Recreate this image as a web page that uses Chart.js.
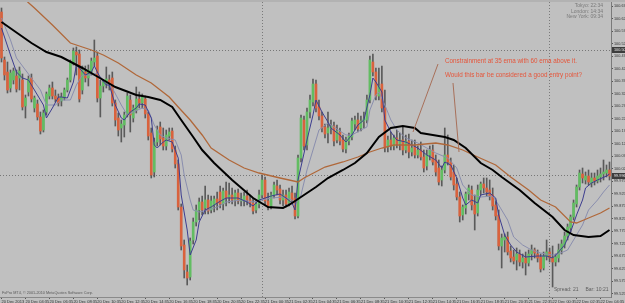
<!DOCTYPE html>
<html>
<head>
<meta charset="utf-8">
<script src="https://cdn.jsdelivr.net/npm/chart.js@4.4.1/dist/chart.umd.min.js"></script>
<style>
  html, body { margin: 0; padding: 0; background: #c0c0c0; overflow: hidden; }
</style>
</head>
<body>
<canvas id="chart" width="625" height="303"></canvas>
<script>
// M15 candles
let open = [100.652,100.460,100.412,100.348,100.380,100.396,100.388,100.380,100.276,100.332,100.388,100.268,100.284,100.232,100.180,100.252,100.316,100.348,100.316,
100.308,100.296,100.308,100.340,100.380,100.448,100.492,100.484,100.340,100.412,100.388,100.412,100.452,100.476,100.308,100.356,100.368,100.380,100.388,100.288,
100.228,100.188,100.200,100.244,100.300,100.228,100.260,100.304,100.288,100.304,100.244,100.168,100.012,100.132,100.192,100.148,100.116,100.156,100.176,100.100,
100.044,99.872,99.720,99.612,99.592,99.740,99.812,99.860,99.892,99.868,99.900,99.860,99.880,99.904,99.932,99.884,99.936,99.912,99.920,99.900,
99.928,99.896,99.896,99.916,99.900,99.888,99.860,99.884,99.920,99.980,99.896,99.876,99.920,99.956,99.944,99.900,99.920,99.888,99.928,99.908,99.836,
100.068,100.220,100.120,100.252,100.292,100.364,100.272,100.236,100.192,100.168,100.188,100.196,100.140,100.172,100.140,100.104,100.136,100.152,100.204,100.220,
100.188,100.216,100.220,100.300,100.452,100.412,100.316,100.364,100.268,100.112,100.140,100.116,100.148,100.124,100.140,100.100,100.136,100.092,100.112,100.080,
100.100,100.072,100.036,100.080,100.100,100.060,100.028,99.980,100.020,100.080,100.052,100.012,99.964,99.912,99.840,99.868,99.924,99.940,99.880,99.848,
99.940,99.964,99.948,99.940,99.920,99.880,99.840,99.716,99.740,99.752,99.696,99.672,99.660,99.684,99.652,99.668,99.648,99.684,99.700,99.684,
99.672,99.628,99.676,99.692,99.668,99.652,99.668,99.700,99.720,99.756,99.788,99.832,99.884,99.952,100.004,99.980,99.996,99.968,99.988,99.976,
99.992,100.004,100.008,100.020];
let high = [100.668,100.472,100.452,100.420,100.428,100.420,100.432,100.404,100.320,100.396,100.404,100.316,100.300,100.252,100.260,100.332,100.360,100.372,100.340,
100.324,100.328,100.348,100.388,100.460,100.508,100.512,100.500,100.436,100.436,100.440,100.468,100.540,100.492,100.380,100.380,100.432,100.400,100.412,100.300,
100.248,100.220,100.252,100.328,100.320,100.280,100.352,100.332,100.324,100.316,100.252,100.188,100.148,100.196,100.212,100.188,100.180,100.188,100.188,100.116,
100.060,99.884,99.740,99.640,99.748,99.828,99.880,99.908,99.916,99.956,99.920,99.916,99.916,99.932,99.956,99.948,99.972,99.968,99.948,99.940,
99.944,99.928,99.932,99.940,99.920,99.908,99.900,99.940,100.000,99.992,99.928,99.932,99.972,99.980,99.960,99.940,99.940,99.948,99.956,99.928,100.080,
100.240,100.236,100.268,100.320,100.384,100.380,100.300,100.252,100.204,100.252,100.220,100.212,100.200,100.188,100.160,100.152,100.168,100.228,100.236,100.248,
100.236,100.252,100.320,100.476,100.484,100.428,100.428,100.436,100.340,100.156,100.172,100.160,100.180,100.168,100.192,100.160,100.164,100.140,100.140,100.116,
100.132,100.100,100.100,100.116,100.120,100.080,100.060,100.036,100.188,100.160,100.068,100.040,99.988,99.932,99.880,99.932,99.960,99.956,99.920,99.960,
99.972,99.988,99.988,99.980,99.948,99.900,99.860,99.764,99.764,99.772,99.716,99.700,99.708,99.700,99.684,99.692,99.700,99.720,99.708,99.700,
99.684,99.692,99.740,99.708,99.716,99.684,99.724,99.740,99.772,99.804,99.840,99.900,99.960,100.020,100.028,100.012,100.020,100.008,100.008,100.020,
100.028,100.060,100.040,100.052];
let low = [100.452,100.380,100.328,100.332,100.364,100.332,100.340,100.260,100.228,100.316,100.292,100.252,100.220,100.164,100.172,100.240,100.304,100.304,100.292,
100.276,100.276,100.300,100.332,100.372,100.440,100.400,100.292,100.324,100.372,100.356,100.400,100.436,100.292,100.232,100.332,100.348,100.340,100.276,100.196,
100.156,100.132,100.152,100.232,100.172,100.212,100.248,100.268,100.268,100.228,100.140,99.988,99.992,100.116,100.120,100.100,100.100,100.140,100.092,100.028,
99.860,99.700,99.588,99.560,99.580,99.724,99.796,99.820,99.840,99.844,99.844,99.848,99.852,99.860,99.868,99.860,99.876,99.888,99.884,99.876,
99.884,99.876,99.876,99.880,99.872,99.844,99.848,99.868,99.908,99.880,99.860,99.864,99.908,99.920,99.884,99.876,99.872,99.876,99.884,99.824,99.828,
100.052,100.100,100.100,100.228,100.276,100.252,100.220,100.172,100.148,100.128,100.164,100.116,100.128,100.120,100.092,100.088,100.120,100.140,100.180,100.172,
100.176,100.188,100.208,100.288,100.396,100.300,100.300,100.252,100.092,100.092,100.100,100.100,100.108,100.100,100.080,100.088,100.068,100.076,100.068,100.068,
100.060,100.012,100.020,100.060,100.040,99.996,99.960,99.956,100.008,100.040,99.980,99.940,99.900,99.812,99.820,99.844,99.900,99.860,99.780,99.836,
99.920,99.928,99.916,99.900,99.860,99.820,99.700,99.628,99.692,99.680,99.652,99.644,99.620,99.636,99.628,99.600,99.636,99.660,99.668,99.652,
99.612,99.620,99.660,99.652,99.552,99.636,99.652,99.684,99.708,99.740,99.772,99.820,99.872,99.940,99.968,99.964,99.960,99.952,99.960,99.968,
99.972,99.980,99.992,99.980];
let close = [100.468,100.400,100.340,100.408,100.416,100.344,100.416,100.272,100.308,100.384,100.304,100.308,100.232,100.176,100.248,100.324,100.348,100.316,100.304,
100.288,100.312,100.340,100.380,100.448,100.496,100.480,100.304,100.420,100.388,100.420,100.456,100.468,100.308,100.356,100.372,100.384,100.364,100.288,100.220,
100.180,100.204,100.240,100.316,100.240,100.268,100.304,100.288,100.312,100.244,100.156,100.000,100.132,100.180,100.144,100.116,100.160,100.172,100.104,100.044,
99.872,99.716,99.620,99.588,99.736,99.812,99.860,99.892,99.860,99.900,99.856,99.896,99.904,99.888,99.884,99.936,99.908,99.920,99.900,99.928,
99.896,99.904,99.916,99.900,99.888,99.856,99.884,99.920,99.980,99.896,99.876,99.920,99.960,99.940,99.900,99.920,99.884,99.932,99.900,99.836,100.068,
100.228,100.116,100.252,100.300,100.364,100.268,100.236,100.188,100.164,100.188,100.196,100.136,100.176,100.136,100.104,100.140,100.156,100.216,100.220,100.184,
100.216,100.224,100.300,100.460,100.412,100.316,100.356,100.268,100.108,100.140,100.116,100.148,100.124,100.140,100.100,100.136,100.092,100.108,100.080,100.100,
100.072,100.028,100.080,100.100,100.052,100.012,99.972,100.020,100.080,100.052,99.992,99.960,99.912,99.836,99.872,99.924,99.948,99.880,99.844,99.940,
99.964,99.948,99.932,99.916,99.876,99.836,99.716,99.748,99.752,99.692,99.668,99.656,99.684,99.652,99.668,99.648,99.684,99.700,99.688,99.668,
99.624,99.676,99.692,99.668,99.652,99.672,99.700,99.724,99.756,99.792,99.832,99.888,99.952,100.008,99.988,99.996,99.972,99.988,99.976,99.996,
100.004,100.012,100.020,99.996];

// moving averages as [bar, price]
let ema35 = [[0,100.612],[10,100.528],[15,100.492],[20,100.472],[27,100.428],[34,100.380],[38,100.352],[45,100.320],[49,100.312],[53,100.300],[57,100.272],[60,100.220],[64,100.152],[67,100.100],[71,100.048],[77,99.980],[84,99.908],[89,99.872],[94,99.868],[96,99.880],[100,99.912],[105,99.952],[109,99.988],[114,100.020],[118,100.048],[122,100.088],[126,100.152],[130,100.188],[134,100.196],[138,100.188],[140,100.168],[144,100.160],[148,100.152],[151,100.140],[155,100.108],[160,100.048],[164,100.020],[167,99.992],[173,99.940],[178,99.888],[184,99.832],[188,99.780],[191,99.760],[196,99.752],[200,99.756],[203,99.780]];
let ema60 = [[0,100.760],[8,100.700],[11,100.668],[17,100.600],[23,100.528],[27,100.512],[30,100.500],[34,100.480],[39,100.448],[45,100.400],[50,100.368],[56,100.312],[59,100.272],[63,100.220],[67,100.160],[70,100.108],[76,100.060],[81,100.028],[86,100.008],[93,99.988],[99,99.972],[101,99.988],[108,100.032],[114,100.052],[119,100.072],[123,100.092],[127,100.108],[131,100.120],[138,100.120],[145,100.128],[149,100.120],[154,100.100],[159,100.072],[165,100.040],[170,99.992],[176,99.940],[180,99.900],[185,99.872],[190,99.812],[192,99.808],[196,99.828],[200,99.848],[203,99.868]];
let emaFast = [[0,100.588],[3,100.480],[5,100.412],[7,100.388],[9,100.380],[11,100.340],[14,100.280],[15,100.228],[17,100.268],[19,100.312],[20,100.312],[22,100.308],[24,100.372],[25,100.440],[26,100.428],[28,100.400],[30,100.412],[31,100.436],[33,100.388],[35,100.360],[36,100.360],[38,100.280],[40,100.228],[41,100.220],[43,100.252],[45,100.268],[46,100.284],[48,100.280],[50,100.228],[51,100.120],[52,100.108],[54,100.132],[55,100.140],[57,100.132],[59,100.068],[60,99.920],[62,99.780],[63,99.680],[65,99.740],[66,99.812],[68,99.860],[70,99.872],[72,99.888],[75,99.908],[79,99.908],[82,99.892],[84,99.876],[86,99.900],[88,99.908],[90,99.916],[93,99.924],[95,99.908],[97,99.888],[98,99.860],[99,99.980],[102,100.140],[104,100.240],[105,100.300],[107,100.252],[109,100.212],[110,100.188],[113,100.160],[115,100.132],[117,100.160],[119,100.200],[121,100.220],[123,100.320],[124,100.388],[125,100.372],[127,100.332],[128,100.220],[130,100.172],[132,100.140],[135,100.132],[139,100.108],[142,100.080],[145,100.060],[147,100.028],[148,100.052],[150,100.040],[152,99.988],[154,99.908],[155,99.880],[157,99.900],[159,99.888],[160,99.920],[163,99.928],[165,99.908],[166,99.840],[168,99.760],[170,99.720],[172,99.692],[175,99.672],[179,99.676],[182,99.676],[184,99.668],[186,99.692],[188,99.720],[190,99.772],[192,99.840],[194,99.900],[195,99.948],[197,99.968],[199,99.980],[202,99.996],[203,100.004]];
let emaMid = [[0,100.628],[3,100.540],[5,100.468],[8,100.420],[10,100.388],[13,100.340],[15,100.280],[18,100.280],[20,100.300],[23,100.300],[25,100.360],[27,100.400],[30,100.400],[32,100.408],[34,100.380],[37,100.348],[40,100.280],[42,100.240],[44,100.252],[47,100.268],[49,100.260],[51,100.200],[53,100.160],[55,100.148],[58,100.140],[60,100.080],[61,100.000],[63,99.900],[64,99.860],[66,99.852],[69,99.860],[72,99.872],[75,99.892],[80,99.900],[84,99.892],[87,99.900],[90,99.908],[94,99.912],[97,99.900],[98,99.880],[100,99.920],[102,100.020],[104,100.100],[106,100.180],[109,100.208],[111,100.192],[115,100.160],[117,100.160],[120,100.180],[122,100.192],[123,100.260],[125,100.320],[126,100.332],[128,100.280],[130,100.220],[132,100.180],[135,100.148],[139,100.128],[142,100.108],[145,100.088],[149,100.068],[152,100.028],[154,99.960],[157,99.920],[160,99.912],[164,99.916],[166,99.880],[169,99.820],[171,99.752],[174,99.720],[177,99.700],[180,99.688],[184,99.680],[186,99.684],[189,99.700],[191,99.740],[194,99.800],[196,99.860],[199,99.900],[201,99.932],[203,99.960]];

let timeTicks = ["20 Dec 2013","20 Dec 04:35","20 Dec 06:35","20 Dec 08:35","20 Dec 10:35","20 Dec 12:35","20 Dec 14:35","20 Dec 16:35","20 Dec 18:35","20 Dec 20:35","20 Dec 22:35","21 Dec 00:35","21 Dec 02:35",
  "21 Dec 04:35","21 Dec 06:35","21 Dec 08:35","21 Dec 10:35","21 Dec 12:35","21 Dec 14:35","21 Dec 16:35","21 Dec 18:35","21 Dec 20:35","21 Dec 22:35","22 Dec 00:35","22 Dec 02:35","22 Dec 04:35"];
let barsPerTick = 8;
let priceTicks = [100.675,100.625,100.575,100.525,100.475,100.425,100.375,100.325,100.275,100.225,100.175,100.125,100.075,100.025,
  99.975,99.925,99.875,99.825,99.775,99.725,99.675,99.625,99.575,99.525];
let levels = [100.500, 100.000];     // dotted horizontal lines
let separators = [87, 183];          // day separators (bar index)
let priceBoxes = [100.500, 99.996];  // highlighted labels on the price scale

const BULL = '#62bd62', BEAR = '#d9623d', WICK = '#5a5a5a', FONT = '"Liberation Sans", Arial, sans-serif';

let labels = open.map((_, i) => String(i));
let pts = arr => arr.map(p => ({x: String(p[0]), y: p[1]}));

const mt4Plugin = {
  id: 'mt4',
  beforeDraw(chart) {
    const c = chart.ctx;
    c.save();
    c.fillStyle = '#c0c0c0';
    c.fillRect(0, 0, chart.width, chart.height);
    c.fillStyle = '#b2b2b2';
    c.fillRect(0, 0, chart.width, 2);
    c.restore();
  },
  beforeDatasetsDraw(chart) {
    const c = chart.ctx, a = chart.chartArea, y = chart.scales.y;
    c.save();
    c.strokeStyle = '#777';
    c.lineWidth = 1;
    c.setLineDash([1, 2]);
    levels.forEach(v => {
      const py = Math.round(y.getPixelForValue(v)) + 0.5;
      c.beginPath(); c.moveTo(a.left, py); c.lineTo(a.right, py); c.stroke();
    });
    c.restore();
  },
  afterDraw(chart) {
    const c = chart.ctx, a = chart.chartArea, y = chart.scales.y;
    c.save();
    // price boxes
    priceBoxes.forEach(v => {
      const py = y.getPixelForValue(v);
      c.fillStyle = '#3c3c3c';
      c.fillRect(a.right + 1, py - 3, chart.width - a.right - 1, 6);
      c.fillStyle = '#e8e8e8';
      c.font = '3.8px ' + FONT;
      c.textBaseline = 'middle';
      c.textAlign = 'left';
      c.fillText(v.toFixed(3), a.right + 3, py);
    });
    // clocks
    c.fillStyle = '#7a7a7a';
    c.font = '5px ' + FONT;
    c.textAlign = 'right';
    c.fillText('Tokyo: 22:34', 603, 6);
    c.fillText('London: 14:34', 603, 11.5);
    c.fillText('New York: 09:34', 603, 17);
    // status texts
    c.textAlign = 'left';
    c.fillStyle = '#5a5a5a';
    c.font = '3.8px ' + FONT;
    c.fillText('FxPro MT4, \u00a9 2001-2010 MetaQuotes Software Corp.', 2, 293);
    c.font = '5px ' + FONT;
    c.fillStyle = '#606060';
    c.fillText('Spread: 21     Bar: 10:21', 554, 290);
    // annotation
    c.strokeStyle = '#a8705a';
    c.lineWidth = 1;
    c.beginPath(); c.moveTo(438, 64); c.lineTo(413, 132); c.stroke();
    c.beginPath(); c.moveTo(453, 83); c.lineTo(459, 152); c.stroke();
    c.fillStyle = '#e5553a';
    c.font = '6.3px ' + FONT;
    c.fillText('Constrainment at 35 ema with 60 ema above it.', 445, 61.5);
    c.fillText('Would this bar be considered a good entry point?', 445, 75.5);
    c.restore();
  }
};

let ctx = document.getElementById('chart').getContext('2d');
let chart = new Chart(ctx, {
  type: 'bar',
  data: {
    labels: labels,
    datasets: [
      { type: 'line', data: pts(ema35), borderColor: '#000000', borderWidth: 2, pointRadius: 0, tension: 0, order: 0 },
      { type: 'line', data: pts(ema60), borderColor: '#b0683a', borderWidth: 1.3, pointRadius: 0, tension: 0, order: 1 },
      { type: 'line', data: pts(emaFast), borderColor: '#3d3d8f', borderWidth: 1, pointRadius: 0, tension: 0, order: 2 },
      { type: 'line', data: pts(emaMid), borderColor: '#8a8eae', borderWidth: 1, pointRadius: 0, tension: 0, order: 3 },
      { data: open.map((o, i) => [o, close[i]]), backgroundColor: open.map((o, i) => close[i] >= o ? BULL : BEAR),
        barThickness: 2, minBarLength: 1, grouped: false, order: 5 },
      { data: low.map((l, i) => [l, high[i]]), backgroundColor: WICK, barThickness: 1, grouped: false, order: 6 }
    ]
  },
  options: {
    responsive: false,
    animation: false,
    devicePixelRatio: 1,
    layout: { padding: { top: 2, left: 0, right: 0, bottom: 0 } },
    plugins: { legend: { display: false }, tooltip: { enabled: false } },
    scales: {
      x: {
        type: 'category',
        offset: true,
        afterFit: s => { s.height = 6; s.paddingLeft = 0; s.paddingRight = 0; },
        grid: {
          offset: false,
          color: c => separators.includes(c.index) ? '#7a7a7a' : 'rgba(0,0,0,0)',
          tickColor: c => c.index % barsPerTick === 0 ? '#555' : 'rgba(0,0,0,0)',
          tickLength: 2
        },
        border: { color: '#8a8a8a', dash: [1, 2] },
        ticks: {
          autoSkip: false, maxRotation: 0, minRotation: 0, align: 'start', padding: 0,
          color: '#333', font: { size: 4, family: FONT },
          callback: (v, i) => i % barsPerTick === 0 ? timeTicks[i / barsPerTick] : ''
        }
      },
      y: {
        position: 'right',
        min: 99.512,
        max: 100.692,
        afterBuildTicks: s => { s.ticks = priceTicks.map(v => ({ value: v })); },
        afterFit: s => { s.width = 14; s.paddingTop = 0; s.paddingBottom = 0; },
        grid: { drawOnChartArea: false, tickLength: 2, tickColor: '#555' },
        border: { color: '#7a7a7a' },
        ticks: {
          autoSkip: false, padding: 1, color: '#333', font: { size: 3.8, family: FONT },
          callback: v => v.toFixed(3)
        }
      }
    }
  },
  plugins: [mt4Plugin]
});
</script>
</body>
</html>
